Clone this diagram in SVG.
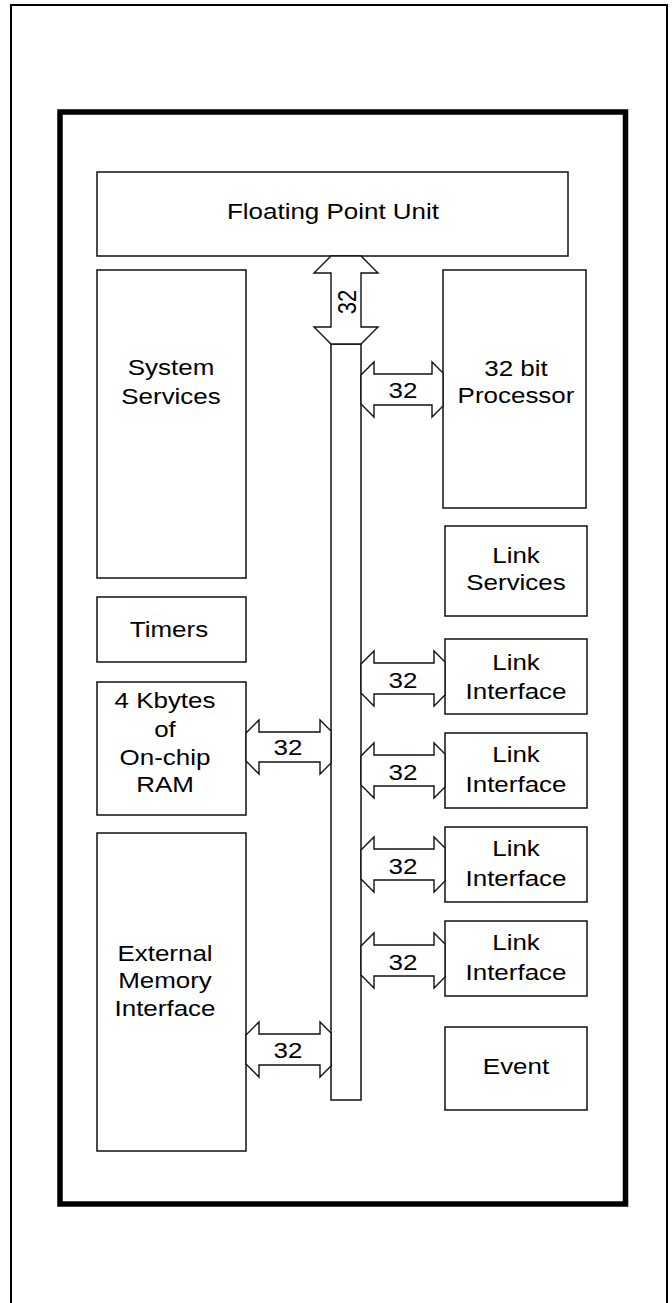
<svg xmlns="http://www.w3.org/2000/svg" width="672" height="1303" viewBox="0 0 672 1303">
<style>
.box{fill:#fff;stroke:#111;stroke-width:1.5}
.arr{fill:#fff;stroke:#111;stroke-width:1.4;stroke-linejoin:miter}
text{font-family:"Liberation Sans",Arial,sans-serif;font-size:22px;fill:#000;text-anchor:middle}
</style>
<rect x="0" y="0" width="672" height="1303" fill="#fff"/>
<rect x="11" y="5" width="656" height="1320" fill="none" stroke="#000" stroke-width="2"/>
<rect x="60" y="112" width="565.5" height="1092" fill="none" stroke="#000" stroke-width="5.5"/>

<g id="fpu"><rect class="box" x="97" y="172" width="471" height="84"/>
<text transform="translate(333,219) scale(1.18 1)">Floating Point Unit</text></g>
<g id="system-services"><rect class="box" x="97" y="270" width="149" height="308"/>
<text transform="translate(171,375) scale(1.18 1)"><tspan x="0">System</tspan><tspan x="0" dy="29">Services</tspan></text></g>
<g id="processor"><rect class="box" x="443" y="270" width="143" height="238"/>
<text transform="translate(516,376) scale(1.18 1)"><tspan x="0">32 bit</tspan><tspan x="0" dy="27">Processor</tspan></text></g>
<g id="timers"><rect class="box" x="97" y="597" width="149" height="65"/>
<text transform="translate(169,637) scale(1.18 1)">Timers</text></g>
<g id="ram"><rect class="box" x="97" y="682" width="149" height="133"/>
<text transform="translate(165,708) scale(1.18 1)"><tspan x="0">4 Kbytes</tspan><tspan x="0" dy="29">of</tspan><tspan x="0" dy="28">On-chip</tspan><tspan x="0" dy="27">RAM</tspan></text></g>
<g id="emi"><rect class="box" x="97" y="833" width="149" height="318"/>
<text transform="translate(165,961) scale(1.18 1)"><tspan x="0">External</tspan><tspan x="0" dy="27">Memory</tspan><tspan x="0" dy="28">Interface</tspan></text></g>
<g id="link-services"><rect class="box" x="445" y="526" width="142" height="90"/>
<text transform="translate(516,563) scale(1.18 1)"><tspan x="0">Link</tspan><tspan x="0" dy="27">Services</tspan></text></g>
<g id="link-interface-1"><rect class="box" x="445" y="639" width="142" height="75"/>
<text transform="translate(516,670) scale(1.18 1)"><tspan x="0">Link</tspan><tspan x="0" dy="29">Interface</tspan></text></g>
<g id="link-interface-2"><rect class="box" x="445" y="733" width="142" height="75"/>
<text transform="translate(516,762) scale(1.18 1)"><tspan x="0">Link</tspan><tspan x="0" dy="30">Interface</tspan></text></g>
<g id="link-interface-3"><rect class="box" x="445" y="827" width="142" height="75"/>
<text transform="translate(516,856) scale(1.18 1)"><tspan x="0">Link</tspan><tspan x="0" dy="30">Interface</tspan></text></g>
<g id="link-interface-4"><rect class="box" x="445" y="921" width="142" height="75"/>
<text transform="translate(516,950) scale(1.18 1)"><tspan x="0">Link</tspan><tspan x="0" dy="30">Interface</tspan></text></g>
<g id="event"><rect class="box" x="445" y="1027" width="142" height="83"/>
<text transform="translate(516,1074) scale(1.18 1)">Event</text></g>
<g id="bus"><rect class="box" x="331" y="344" width="30" height="756"/></g>

<g id="connectors">
<polygon class="arr" points="331,256 314,273 331,273 331,327 314,327 331,344 361,344 378,327 361,327 361,273 378,273 361,256"/>
<text transform="translate(347,302) scale(1.18 1) rotate(-90)" dy="8">32</text>
<polygon class="arr" points="361,375 374,362 374,374 432,374 432,362 443,373 443,406 432,417 432,405 374,405 374,417 361,404"/>
<text transform="translate(403,398) scale(1.18 1)">32</text>
<polygon class="arr" points="361,664 374,651 374,663 434,663 434,651 445,662 445,695 434,706 434,694 374,694 374,706 361,693"/>
<text transform="translate(403,688) scale(1.18 1)">32</text>
<polygon class="arr" points="361,756 374,743 374,755 434,755 434,743 445,754 445,787 434,798 434,786 374,786 374,798 361,785"/>
<text transform="translate(403,780) scale(1.18 1)">32</text>
<polygon class="arr" points="361,850 374,837 374,849 434,849 434,837 445,848 445,881 434,892 434,880 374,880 374,892 361,879"/>
<text transform="translate(403,874) scale(1.18 1)">32</text>
<polygon class="arr" points="361,946 374,933 374,945 434,945 434,933 445,944 445,977 434,988 434,976 374,976 374,988 361,975"/>
<text transform="translate(403,970) scale(1.18 1)">32</text>
<polygon class="arr" points="246,733 259,720 259,732 320,732 320,720 331,731 331,763 320,774 320,762 259,762 259,774 246,761"/>
<text transform="translate(288,755) scale(1.18 1)">32</text>
<polygon class="arr" points="246,1035 259,1022 259,1034 320,1034 320,1022 331,1033 331,1066 320,1077 320,1065 259,1065 259,1077 246,1064"/>
<text transform="translate(288,1058) scale(1.18 1)">32</text>
</g>
</svg>
